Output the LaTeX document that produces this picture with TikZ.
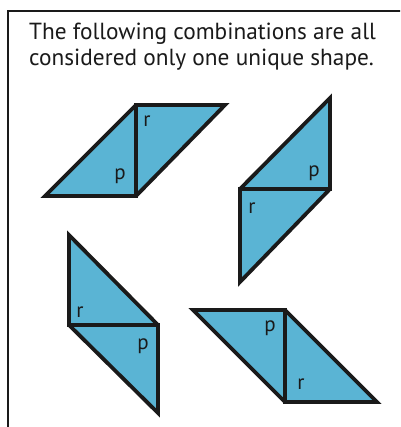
\documentclass[tikz,border=0pt]{standalone}
\usepackage{fontspec}
\setmainfont{PT Sans}
\definecolor{tri}{RGB}{90,180,212}
\definecolor{ink}{RGB}{26,26,26}
\begin{document}
\begin{tikzpicture}[x=1pt,y=-1pt,
  piece/.style={fill=tri,draw=ink,line width=3.8pt,line join=miter},
  divider/.style={draw=ink,line width=3.8pt,line cap=rect},
  lbl/.style={font=\fontsize{21}{21}\selectfont,text=ink,inner sep=0pt},
  head/.style={font=\fontsize{23.3}{25.5}\selectfont,text=ink,inner sep=0pt,align=left,anchor=north west}]
\useasboundingbox (0,0) rectangle (400,427);
\fill[white] (0,0) rectangle (400,427);
\begin{scope}
\clip (0,0) rectangle (400,427);
\draw[ink,line width=2pt] (8,440) -- (8,11) -- (410,11);
\end{scope}
\node[head] (title) at (29,23) {The following combinations are all\\considered only one unique shape.};
% shape 1
\draw[piece] (45,196) -- (136,196) -- (225,105) -- (136,105) -- cycle;
\draw[divider] (136,105) -- (136,196);
\node[lbl] (r1) at (147,121) {r};
\node[lbl] (p1) at (120,176) {p};
% shape 2
\draw[piece] (330,98) -- (330,189) -- (240,282) -- (240,189) -- cycle;
\draw[divider] (240,189) -- (330,189);
\node[lbl] (p2) at (314,173) {p};
\node[lbl] (r2) at (252,208) {r};
% shape 3
\draw[piece] (69,235) -- (158,325) -- (158,413) -- (69,325) -- cycle;
\draw[divider] (69,325) -- (158,325);
\node[lbl] (r3) at (80,312) {r};
\node[lbl] (p3) at (143,346) {p};
% shape 4
\draw[piece] (193,310) -- (285,310) -- (377,402) -- (285,402) -- cycle;
\draw[divider] (285,310) -- (285,402);
\node[lbl] (p4) at (270,328) {p};
\node[lbl] (r4) at (301,384) {r};
\end{tikzpicture}
\end{document}
